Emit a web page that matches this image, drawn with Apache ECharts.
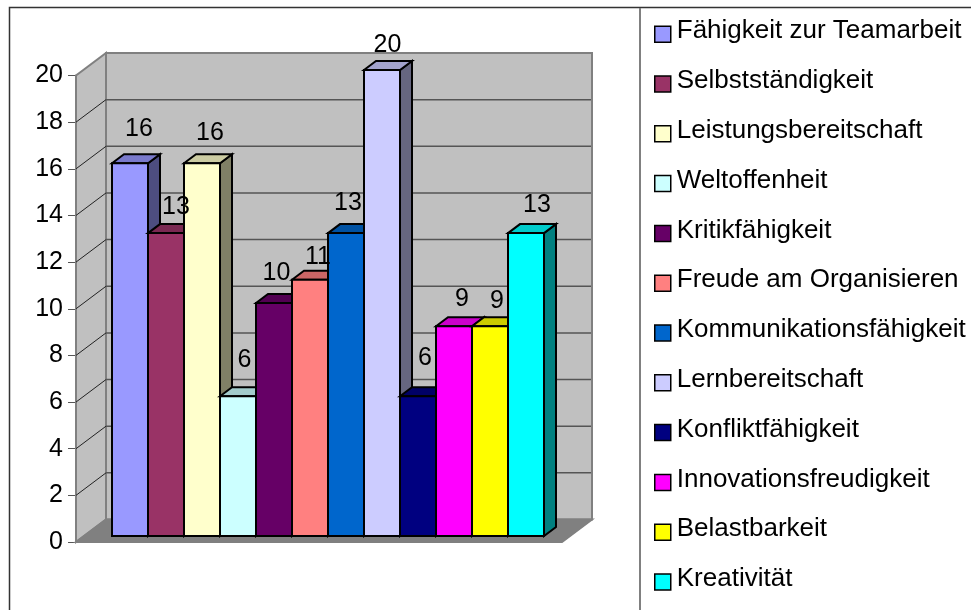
<!DOCTYPE html>
<html><head><meta charset="utf-8">
<style>html,body{margin:0;padding:0;background:#fff}#c{width:971px;height:610px}</style>
<script src="https://cdn.jsdelivr.net/npm/echarts@6/dist/echarts.min.js"></script>
</head><body><div id="c"></div>
<script>
const categories = ['Fähigkeit zur Teamarbeit','Selbstständigkeit','Leistungsbereitschaft','Weltoffenheit','Kritikfähigkeit','Freude am Organisieren','Kommunikationsfähigkeit','Lernbereitschaft','Konfliktfähigkeit','Innovationsfreudigkeit','Belastbarkeit','Kreativität'];
const values = [16,13,16,6,10,11,13,20,6,9,9,13];
const colors = ['#9999ff','#993366','#ffffcc','#ccffff','#660066','#ff8080','#0066cc','#ccccff','#000080','#ff00ff','#ffff00','#00ffff'];
const ticks = [0,2,4,6,8,10,12,14,16,18,20];
const labelNudge = [[9,-34],[10,-26],[8,-30],[6.5,-36],[2.5,-30],[8,-23],[2,-30],[5.5,-25],[7,-38],[8,-27],[7,-25],[11,-28]];

const FONT = 'Liberation Sans';
const WALL_DX = 30, WALL_DY = -22.5, BAR_DX = 12, BAR_DY = -9;

function shade(hex, f) {
  const n = parseInt(hex.slice(1), 16);
  const c = [n >> 16 & 255, n >> 8 & 255, n & 255].map(v => Math.round(v * f));
  return 'rgb(' + c.join(',') + ')';
}
function poly(points, fill, stroke, lw) {
  return {type:'polygon', silent:true, shape:{points}, style:{fill, stroke, lineWidth:lw, lineJoin:'miter'}};
}
function renderWall(params, api) {
  const v = api.value(0);
  const a = api.coord([0, v]), b = api.coord([1, v]);
  const children = [];
  if (params.dataIndex === 0) {
    const t = api.coord([0, 20]), r = api.coord([1, 20]);
    const bx = a[0] + WALL_DX, by = a[1] + WALL_DY, ty = t[1] + WALL_DY, rx = r[0] + WALL_DX;
    children.push(poly([[a[0],a[1]],[t[0],t[1]],[bx,ty],[bx,by]], '#c0c0c0', '#808080', 2));
    children.push(poly([[bx,ty],[rx,ty],[rx,by],[bx,by]], '#c0c0c0', '#808080', 2));
    children.push(poly([[a[0],a[1]],[bx,by],[rx,by],[b[0],b[1]]], '#808080', '#808080', 2));
  } else if (v < 20) {
    children.push({type:'polyline', silent:true, shape:{points:[[a[0],a[1]],[a[0]+WALL_DX,a[1]+WALL_DY]]}, style:{fill:null, stroke:'#222', lineWidth:1}});
    children.push({type:'line', silent:true, shape:{x1:a[0]+WALL_DX,y1:a[1]+WALL_DY,x2:b[0]+WALL_DX-1,y2:b[1]+WALL_DY}, style:{stroke:'#555', lineWidth:1.5}});
  }
  return {type:'group', children};
}
function renderBar(params, api) {
  const i = api.value(0), v = api.value(1);
  const w = api.size([1,0])[0];
  const top = api.coord([i, v]), base = api.coord([i, 0]);
  const l = top[0] - w/2, r = top[0] + w/2, t = top[1], b = base[1];
  const col = colors[i];
  return {type:'group', children:[
    poly([[r,t],[r+BAR_DX,t+BAR_DY],[r+BAR_DX,b+BAR_DY],[r,b]], shade(col,0.5), '#000', 2),
    poly([[l,t],[l+BAR_DX,t+BAR_DY],[r+BAR_DX,t+BAR_DY],[r,t]], shade(col,0.8), '#000', 2),
    {type:'rect', silent:true, shape:{x:l,y:t,width:w,height:b-t}, style:{fill:col, stroke:'#000', lineWidth:2}}
  ]};
}
function renderLabel(params, api) {
  const i = api.value(0), v = api.value(1);
  const p = api.coord([i, v]);
  return {type:'text', silent:true, x:p[0]+labelNudge[i][0], y:p[1]+labelNudge[i][1],
    style:{text:String(v), fill:'#000', font:'25px "'+FONT+'"', textAlign:'center', textVerticalAlign:'middle'}};
}

const series = [{
  type:'custom', name:'walls', xAxisIndex:0, yAxisIndex:0, z:1, silent:true,
  renderItem:renderWall, data:ticks.map(t => [t]), encode:{y:0}, clip:false
}];
categories.forEach((name, i) => series.push({
  type:'custom', name, xAxisIndex:1, yAxisIndex:1, z:2, silent:true, clip:false,
  itemStyle:{color:colors[i], borderColor:'#000', borderWidth:2},
  renderItem:renderBar, data:[[i, values[i]]], encode:{x:0, y:1}
}));
series.push({
  type:'custom', name:'labels', xAxisIndex:1, yAxisIndex:1, z:5, silent:true, clip:false,
  renderItem:renderLabel, data:values.map((v,i) => [i, v]), encode:{x:0, y:1}
});

const chart = echarts.init(document.getElementById('c'), null, {renderer:'canvas'});
chart.setOption({
  animation:false,
  backgroundColor:'#fff',
  textStyle:{fontFamily:FONT},
  tooltip:{show:false},
  graphic:[
    {type:'rect', z:-1, silent:true, shape:{x:9.5,y:7.5,width:1200,height:800}, style:{fill:'none', stroke:'#333', lineWidth:1.5}},
    {type:'line', z:-1, silent:true, shape:{x1:640,y1:8,x2:640,y2:610}, style:{stroke:'#808080', lineWidth:2}}
  ],
  grid:[
    {left:76, top:75.5, width:486, height:466.5},
    {left:112, top:70, width:432, height:466}
  ],
  xAxis:[
    {gridIndex:0, type:'value', min:0, max:1, show:false},
    {gridIndex:1, type:'category', data:categories, show:false}
  ],
  yAxis:[
    {gridIndex:0, type:'value', min:0, max:20, interval:2, splitLine:{show:false},
     axisLine:{show:true, lineStyle:{color:'#808080', width:2}},
     axisTick:{show:true, length:8, lineStyle:{color:'#555', width:1}},
     axisLabel:{fontSize:25, color:'#000', margin:13, fontFamily:FONT}},
    {gridIndex:1, type:'value', min:0, max:20, show:false}
  ],
  legend:{
    data:categories, orient:'vertical', left:654, top:18.2, selectedMode:false,
    icon:'rect', itemWidth:16, itemHeight:16, itemGap:23.8, padding:0,
    itemStyle:{borderColor:'#000', borderWidth:1.5},
    formatter: name => '{a|' + name + '}',
    textStyle:{fontSize:26, color:'#000', fontFamily:FONT,
      rich:{a:{fontSize:26, color:'#000', fontFamily:FONT, lineHeight:32, verticalAlign:'top', padding:[0,0,0,1]}}}
  },
  series
});
</script></body></html>
